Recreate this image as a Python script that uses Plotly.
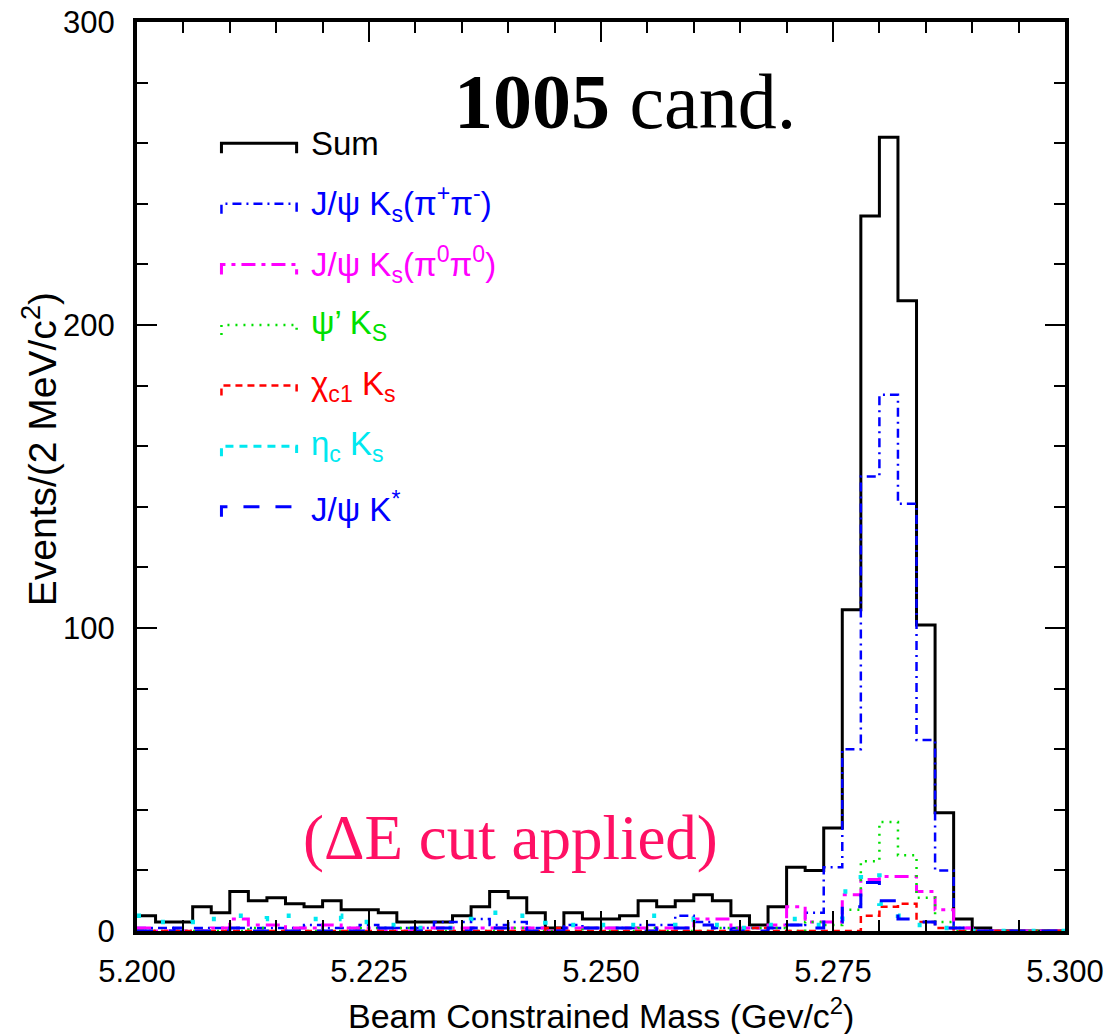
import plotly.graph_objects as go

# Binning: 2 MeV bins from 5.200 to 5.300 GeV/c^2
BIN_LO = 5.200
BIN_W = 0.002
N_BINS = 50

# Event counts per bin
sum_counts = [5, 3, 3, 8, 6, 13, 10, 11, 9, 8,
              10, 7, 7, 6, 3, 3, 3, 5, 8, 13,
              11, 6, 1, 6, 4, 4, 5, 10, 8, 10,
              12, 10, 5, 2, 8, 21, 20, 34, 106, 236,
              262, 208, 101, 39, 4, 1, 0, 0, 0, 0]

jpsi_ks_pipi = [1, 1, 0, 1, 1, 1, 1, 1, 1, 2,
                1, 1, 2, 1, 1, 1, 3, 3, 4, 2,
                3, 1, 0, 2, 1, 1, 1, 2, 2, 5,
                3, 1, 1, 1, 1, 2, 6, 21, 60, 150,
                177, 141, 63, 20, 1, 0, 0, 0, 0, 0]

jpsi_ks_pi0pi0 = [1, 0, 0, 0, 1, 4, 2, 2, 1, 1,
                  2, 1, 1, 0, 0, 1, 1, 1, 1, 1,
                  1, 1, 0, 1, 1, 1, 1, 1, 1, 1,
                  4, 4, 1, 1, 2, 8, 3, 3, 12, 17,
                  18, 18, 13, 7, 1, 0, 0, 0, 0, 0]

psi2s_ks = [0, 0, 0, 0, 0, 0, 1, 0, 0, 0,
            0, 0, 1, 1, 1, 0, 0, 0, 0, 0,
            1, 0, 0, 0, 1, 0, 0, 1, 0, 0,
            0, 1, 1, 1, 1, 0, 3, 2, 7, 23,
            36, 25, 11, 3, 0, 0, 0, 0, 0, 0]

chic1_ks = [0, 0, 0, 0, 0, 0, 0, 0, 0, 0,
            0, 0, 0, 0, 0, 0, 0, 0, 0, 0,
            0, 0, 1, 0, 0, 0, 0, 0, 0, 0,
            0, 0, 0, 1, 0, 0, 0, 0, 0, 5,
            8, 9, 3, 1, 0, 0, 0, 0, 0, 0]

etac_ks = [5, 3, 3, 5, 4, 5, 4, 6, 5, 4,
           5, 4, 3, 2, 1, 1, 1, 3, 4, 6,
           5, 4, 2, 2, 2, 2, 2, 5, 3, 1,
           4, 2, 1, 1, 2, 4, 2, 4, 13, 20,
           9, 5, 2, 1, 0, 0, 0, 0, 0, 0]

jpsi_kstar = [0, 0, 1, 0, 0, 1, 0, 0, 0, 0,
              0, 0, 0, 1, 1, 0, 1, 0, 1, 1,
              1, 0, 0, 1, 1, 1, 1, 0, 1, 1,
              2, 1, 0, 0, 1, 2, 1, 3, 8, 16,
              10, 4, 3, 1, 1, 0, 0, 0, 0, 0]

labels = ["Sum",
          "J/ψ K<sub>s</sub>(π<sup>+</sup>π<sup>-</sup>)",
          "J/ψ K<sub>s</sub>(π<sup>0</sup>π<sup>0</sup>)",
          "ψ’ K<sub>S</sub>",
          "χ<sub>c1</sub> K<sub>s</sub>",
          "η<sub>c</sub> K<sub>s</sub>",
          "J/ψ K<sup>*</sup>"]

x_ticks = [5.200, 5.225, 5.250, 5.275, 5.300]
y_ticks = [0, 100, 200, 300]

edges = [round(BIN_LO + BIN_W * i, 4) for i in range(N_BINS + 1)]

# (counts, colour, dash in plot, dash in key, width)
series = [
    (sum_counts, "#000000", "solid", "solid", 3),
    (jpsi_ks_pipi, "#0000ff", "9px,5px,2px,5px", "9px,5px,2px,5px", 2.5),
    (jpsi_ks_pi0pi0, "#ff00ff", "14px,6px,4px,6px", "14px,6px,4px,6px", 3),
    (psi2s_ks, "#00e000", "2px,6px", "2px,6px", 2.5),
    (chic1_ks, "#ff0000", "7px,5px", "7px,5px", 2.5),
    (etac_ks, "#00e8f0", "4px,26px", "8px,6px", 4.5),
    (jpsi_kstar, "#0000ff", "16px,16px", "16px,16px", 3),
]

fig = go.Figure()

for counts, color, dash, _, width in series:
    fig.add_trace(go.Scatter(
        x=edges, y=list(counts) + [counts[-1]],
        mode="lines", line=dict(color=color, dash=dash, width=width, shape="hv"),
        showlegend=False, hoverinfo="skip"))

# Hand-drawn key: step-style line samples with labels
key_x0, key_x1, key_text_x = 5.2091, 5.2172, 5.2185
key_y = [260, 240, 220, 200, 180, 160, 140]
drop = 3.3
for (counts, color, _, key_dash, width), label, ky in zip(series, labels, key_y):
    fig.add_trace(go.Scatter(
        x=[key_x0, key_x0, key_x1, key_x1],
        y=[ky - drop, ky, ky, ky - drop],
        mode="lines", line=dict(color=color, dash=key_dash, width=min(width, 3)),
        showlegend=False, hoverinfo="skip"))
    fig.add_annotation(x=key_text_x, y=ky, text=label, showarrow=False,
                       xanchor="left", yanchor="middle",
                       font=dict(family="Liberation Sans, Arial", size=33, color=color))

fig.add_annotation(x=5.2339, y=273.6, xanchor="left", yanchor="middle", showarrow=False,
                   text="<b>1005</b> cand.",
                   font=dict(family="Liberation Serif, Times New Roman", size=78, color="black"))

fig.add_annotation(x=5.2402, y=30.7, xanchor="center", yanchor="middle", showarrow=False,
                   text="(ΔE cut applied)",
                   font=dict(family="Liberation Serif, Times New Roman", size=63, color="#ff1064"))

axis_font = dict(family="Liberation Sans, Arial", size=31, color="black")

# Axis titles placed relative to the plotting frame
fig.add_annotation(xref="paper", yref="paper", x=0.5, y=0, yshift=-82,
                   xanchor="center", yanchor="middle", showarrow=False,
                   text="Beam Constrained Mass (Gev/c<sup>2</sup>)",
                   font=dict(family="Liberation Sans, Arial", size=34, color="black"))
fig.add_annotation(xref="paper", yref="paper", x=0, xshift=-98, y=0.53,
                   xanchor="center", yanchor="middle", showarrow=False, textangle=-90,
                   text="Events/(2 MeV/c<sup>2</sup>)",
                   font=dict(family="Liberation Sans, Arial", size=39, color="black"))

fig.update_xaxes(
    range=[5.200, 5.300], tickvals=x_ticks, ticktext=[f"{v:.3f}" for v in x_ticks],
    showline=True, linewidth=4, linecolor="black", mirror="allticks",
    ticks="inside", ticklen=20, tickwidth=2, tickcolor="black",
    minor=dict(dtick=0.005, tick0=5.2, ticks="inside", ticklen=11, tickwidth=2, tickcolor="black"),
    showgrid=False, zeroline=False, tickfont=axis_font, ticklabelstandoff=10,
    automargin=False,
)
fig.update_yaxes(
    range=[0, 300], tickvals=y_ticks, ticktext=[str(v) for v in y_ticks],
    showline=True, linewidth=4, linecolor="black", mirror="allticks",
    ticks="inside", ticklen=20, tickwidth=2, tickcolor="black",
    minor=dict(dtick=20, tick0=0, ticks="inside", ticklen=11, tickwidth=2, tickcolor="black"),
    showgrid=False, zeroline=False, tickfont=axis_font, ticklabelstandoff=12,
    automargin=False,
)

fig.update_layout(
    width=1111, height=1034,
    margin=dict(l=137, r=46, t=22, b=103, autoexpand=False),
    plot_bgcolor="white", paper_bgcolor="white",
    showlegend=False,
)

fig.write_html("out.html")
